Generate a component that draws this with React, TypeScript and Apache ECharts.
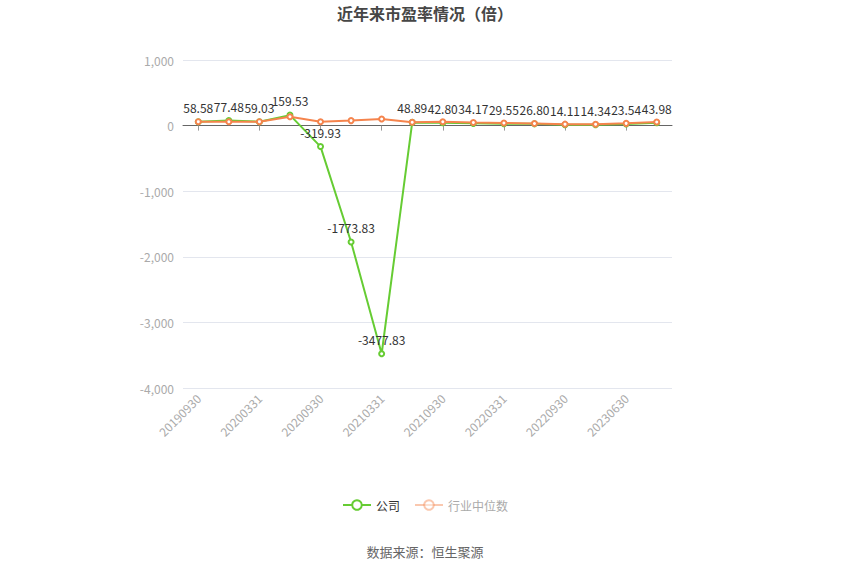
import React, { useEffect, useRef } from "react";
import * as echarts from "echarts";

const categories = [
  "20190930", "20191231", "20200331", "20200630", "20200930", "20201231",
  "20210331", "20210630", "20210930", "20211231", "20220331", "20220630",
  "20220930", "20230331", "20230630", "20230930",
];
const companyPE = [
  58.58, 77.48, 59.03, 159.53, -319.93, -1773.83, -3477.83, 48.89,
  42.8, 34.17, 29.55, 26.8, 14.11, 14.34, 23.54, 43.98,
];
const industryPE = [60, 58, 60, 136, 58, 76, 100, 52, 58, 48, 40, 32, 22, 20, 34, 55];

const App: React.FC = () => {
  const chartRef = useRef<HTMLDivElement>(null);

  useEffect(() => {
    document.body.style.margin = "0";
    if (!chartRef.current) return;
    const chart = echarts.init(chartRef.current, undefined, { renderer: "svg" });

    const fontFamily = "'Microsoft YaHei', 'Noto Sans CJK SC', sans-serif";

    chart.setOption({
      animation: false,
      textStyle: { fontFamily },
      title: {
        text: "近年来市盈率情况（倍）",
        left: "center",
        top: 0,
        textStyle: { fontSize: 16, fontWeight: "bold", color: "#464646" },
      },
      legend: {
        bottom: 59,
        left: "center",
        itemWidth: 28,
        itemHeight: 12,
        itemGap: 14,
        textStyle: { fontSize: 12, color: "#333" },
        data: [
          { name: "公司" },
          {
            name: "行业中位数",
            itemStyle: { opacity: 0.45 },
            lineStyle: { opacity: 0.45 },
            textStyle: { color: "#aaa" },
          },
        ],
      },
      graphic: [
        {
          type: "text",
          left: "center",
          top: 545,
          style: { text: "数据来源：恒生聚源", fontSize: 13, fill: "#666", fontFamily },
        },
      ],
      grid: { left: 183, right: 178, top: 60, bottom: 187 },
      xAxis: [
        {
          type: "category",
          data: categories,
          boundaryGap: true,
          axisLine: { show: false, onZero: false },
          axisTick: { show: false },
          axisLabel: { interval: 1, rotate: 45, color: "#aaa", fontSize: 12, margin: 8 },
        },
        {
          type: "category",
          data: categories,
          position: "bottom",
          boundaryGap: true,
          axisLine: { show: true, onZero: true, lineStyle: { color: "#666" } },
          axisTick: { show: true, interval: 1, alignWithLabel: true, lineStyle: { color: "#999" } },
          axisLabel: { show: false, interval: 1 },
        },
      ],
      yAxis: {
        type: "value",
        min: -4000,
        max: 1000,
        interval: 1000,
        axisLine: { show: false },
        axisTick: { show: false },
        axisLabel: { color: "#aaa", fontSize: 12, margin: 9 },
        splitLine: { lineStyle: { color: "#e3e6ee" } },
      },
      series: [
        {
          name: "公司",
          type: "line",
          data: companyPE,
          symbol: "emptyCircle",
          symbolSize: 5,
          itemStyle: { color: "#66cc33" },
          lineStyle: { width: 2, color: "#66cc33" },
          label: {
            show: true,
            position: "top",
            color: "#333",
            fontSize: 12,
            formatter: (p: any) => Number(p.value).toFixed(2),
          },
          z: 2,
        },
        {
          name: "行业中位数",
          type: "line",
          data: industryPE,
          symbol: "emptyCircle",
          symbolSize: 5,
          itemStyle: { color: "#f5844d" },
          lineStyle: { width: 2, color: "#f5844d" },
          z: 3,
        },
      ],
    });

    return () => {
      chart.dispose();
    };
  }, []);

  return <div ref={chartRef} style={{ width: 850, height: 575 }} />;
};

export default App;
